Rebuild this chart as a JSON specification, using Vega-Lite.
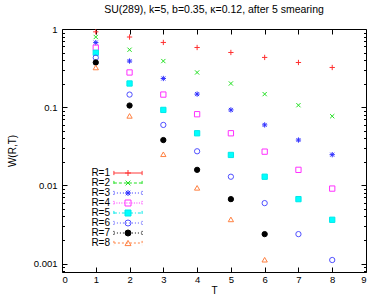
{
  "$schema": "https://vega.github.io/schema/vega-lite/v6.json",
  "width": 304,
  "height": 243,
  "autosize": {"type": "none"},
  "padding": {"left": 62, "top": 29, "right": 16, "bottom": 30},
  "background": "white",
  "title": {"text": "SU(289),  k=5,  b=0.35,  κ=0.12,  after 5 smearing", "fontSize": 10.5, "fontWeight": "normal", "font": "Liberation Sans", "offset": 9, "color": "black"},
  "config": {
    "view": {"stroke": null},
    "axis": {"grid": false, "labelFont": "Liberation Sans", "labelFontSize": 9.5, "labelColor": "black", "domainColor": "black", "tickColor": "black", "titleFont": "Liberation Sans", "titleFontSize": 10, "titleFontWeight": "normal", "titleColor": "black", "domainWidth": 1, "tickWidth": 1},
    "legend": {"labelFont": "Liberation Sans", "labelFontSize": 10, "labelColor": "black"}
  },
  "datasets": {
    "pts": [
      {"R": "R=1", "T": 1, "W": 0.92}, {"R": "R=1", "T": 2, "W": 0.79}, {"R": "R=1", "T": 3, "W": 0.673}, {"R": "R=1", "T": 4, "W": 0.58},
      {"R": "R=1", "T": 5, "W": 0.501}, {"R": "R=1", "T": 6, "W": 0.433}, {"R": "R=1", "T": 7, "W": 0.373}, {"R": "R=1", "T": 8, "W": 0.322},
      {"R": "R=2", "T": 1, "W": 0.79}, {"R": "R=2", "T": 2, "W": 0.543}, {"R": "R=2", "T": 3, "W": 0.389}, {"R": "R=2", "T": 4, "W": 0.278},
      {"R": "R=2", "T": 5, "W": 0.201}, {"R": "R=2", "T": 6, "W": 0.147}, {"R": "R=2", "T": 7, "W": 0.106}, {"R": "R=2", "T": 8, "W": 0.0767},
      {"R": "R=3", "T": 1, "W": 0.67}, {"R": "R=3", "T": 2, "W": 0.389}, {"R": "R=3", "T": 3, "W": 0.233}, {"R": "R=3", "T": 4, "W": 0.147},
      {"R": "R=3", "T": 5, "W": 0.0923}, {"R": "R=3", "T": 6, "W": 0.0593}, {"R": "R=3", "T": 7, "W": 0.038}, {"R": "R=3", "T": 8, "W": 0.0247},
      {"R": "R=4", "T": 1, "W": 0.576}, {"R": "R=4", "T": 2, "W": 0.278}, {"R": "R=4", "T": 3, "W": 0.145}, {"R": "R=4", "T": 4, "W": 0.0813},
      {"R": "R=4", "T": 5, "W": 0.0464}, {"R": "R=4", "T": 6, "W": 0.027}, {"R": "R=4", "T": 7, "W": 0.0158}, {"R": "R=4", "T": 8, "W": 0.0091},
      {"R": "R=5", "T": 1, "W": 0.497}, {"R": "R=5", "T": 2, "W": 0.201}, {"R": "R=5", "T": 3, "W": 0.0923}, {"R": "R=5", "T": 4, "W": 0.0464},
      {"R": "R=5", "T": 5, "W": 0.0245}, {"R": "R=5", "T": 6, "W": 0.0129}, {"R": "R=5", "T": 7, "W": 0.00667}, {"R": "R=5", "T": 8, "W": 0.00363},
      {"R": "R=6", "T": 1, "W": 0.43}, {"R": "R=6", "T": 2, "W": 0.145}, {"R": "R=6", "T": 3, "W": 0.0593}, {"R": "R=6", "T": 4, "W": 0.0273},
      {"R": "R=6", "T": 5, "W": 0.0129}, {"R": "R=6", "T": 6, "W": 0.00593}, {"R": "R=6", "T": 7, "W": 0.00238}, {"R": "R=6", "T": 8, "W": 0.00111},
      {"R": "R=7", "T": 1, "W": 0.373}, {"R": "R=7", "T": 2, "W": 0.105}, {"R": "R=7", "T": 3, "W": 0.038}, {"R": "R=7", "T": 4, "W": 0.0158},
      {"R": "R=7", "T": 5, "W": 0.00667}, {"R": "R=7", "T": 6, "W": 0.00238},
      {"R": "R=8", "T": 1, "W": 0.322}, {"R": "R=8", "T": 2, "W": 0.0774}, {"R": "R=8", "T": 3, "W": 0.025}, {"R": "R=8", "T": 4, "W": 0.0093},
      {"R": "R=8", "T": 5, "W": 0.00367}, {"R": "R=8", "T": 6, "W": 0.00112}
    ],
    "series": [
      {"R": "R=1"}, {"R": "R=2"}, {"R": "R=3"}, {"R": "R=4"}, {"R": "R=5"}, {"R": "R=6"}, {"R": "R=7"}, {"R": "R=8"}
    ]
  },
  "layer": [
    {
      "data": {"name": "series"},
      "mark": {"type": "rule", "strokeWidth": 1},
      "encoding": {
        "x": {"datum": 0, "type": "quantitative", "scale": {"domain": [0, 9], "nice": false, "zero": false}, "axis": null},
        "x2": {"datum": 0},
        "y": {"datum": 1, "type": "quantitative", "scale": {"type": "log", "domain": [0.00078, 1], "nice": false}, "axis": null},
        "y2": {"datum": 1},
        "stroke": {"field": "R", "type": "nominal",
          "scale": {"domain": ["R=1","R=2","R=3","R=4","R=5","R=6","R=7","R=8"], "range": ["#ff3030","#20e020","#3030ff","#ff30ff","#00e8e8","#5050ff","#000000","#ff8040"]},
          "legend": {"orient": "none", "legendX": 61, "legendY": 139, "title": null, "labelExpr": "''", "symbolType": "M-4.7,0L4.7,0M-4.7,-0.7L-4.7,0.7M4.7,-0.7L4.7,0.7", "symbolSize": 36, "rowPadding": -1.6, "padding": 0, "symbolFillColor": "transparent", "symbolStrokeWidth": 1}},
        "strokeDash": {"field": "R", "type": "nominal",
          "scale": {"domain": ["R=1","R=2","R=3","R=4","R=5","R=6","R=7","R=8"], "range": [[1,0],[3,2],[1,2],[1,1.5],[3,2,1,2],[1,2],[1,2],[2,2]]},
          "legend": {"orient": "none", "legendX": 61, "legendY": 139, "title": null, "labelExpr": "''", "symbolType": "M-4.7,0L4.7,0M-4.7,-0.7L-4.7,0.7M4.7,-0.7L4.7,0.7", "symbolSize": 36, "rowPadding": -1.6, "padding": 0, "symbolFillColor": "transparent", "symbolStrokeWidth": 1}}
      }
    },
    {
      "data": {"name": "pts"},
      "mark": {"type": "point", "filled": true, "strokeWidth": 1, "opacity": 1, "size": 28},
      "encoding": {
        "x": {"field": "T", "type": "quantitative", "scale": {"domain": [0, 9], "nice": false, "zero": false},
          "axis": {"orient": "bottom", "values": [0,1,2,3,4,5,6,7,8,9], "tickSize": -5, "format": "d", "title": "T", "labelPadding": 7, "titlePadding": 2}},
        "y": {"field": "W", "type": "quantitative", "scale": {"type": "log", "domain": [0.00078, 1], "nice": false},
          "axis": {"orient": "left", "values": [0.001, 0.01, 0.1, 1], "tickSize": -5, "format": "~g", "title": "W(R,T)", "labelPadding": 10, "titlePadding": 16}},
        "shape": {"field": "R", "type": "nominal",
          "scale": {"domain": ["R=1","R=2","R=3","R=4","R=5","R=6","R=7","R=8"], "range": ["M-1,0L1,0M0,-1L0,1", "M-0.8,-0.8L0.8,0.8M-0.8,0.8L0.8,-0.8", "M-1,0L1,0M0,-1L0,1M-0.75,-0.75L0.75,0.75M-0.75,0.75L0.75,-0.75", "square", "square", "circle", "circle", "triangle-up"]},
          "legend": {"orient": "none", "legendX": 61, "legendY": 139, "title": null, "labelAlign": "right", "labelOffset": -23, "rowPadding": -1.6, "symbolSize": 36, "padding": 0, "symbolStrokeWidth": 1}},
        "stroke": {"field": "R", "type": "nominal",
          "scale": {"domain": ["R=1","R=2","R=3","R=4","R=5","R=6","R=7","R=8"], "range": ["#ff3030","#20e020","#3030ff","#ff30ff","#00e8e8","#5050ff","#000000","#ff8040"]},
          "legend": {"orient": "none", "legendX": 61, "legendY": 139, "title": null, "labelAlign": "right", "labelOffset": -23, "rowPadding": -1.6, "symbolSize": 36, "padding": 0, "symbolStrokeWidth": 1}},
        "fill": {"field": "R", "type": "nominal",
          "scale": {"domain": ["R=1","R=2","R=3","R=4","R=5","R=6","R=7","R=8"], "range": ["transparent","transparent","transparent","transparent","#00ffff","transparent","#000000","transparent"]},
          "legend": {"orient": "none", "legendX": 61, "legendY": 139, "title": null, "labelAlign": "right", "labelOffset": -23, "rowPadding": -1.6, "symbolSize": 36, "padding": 0, "symbolStrokeWidth": 1}}
      }
    },
    {
      "data": {"name": "pts"},
      "mark": {"type": "point", "opacity": 0},
      "encoding": {
        "x": {"field": "T", "type": "quantitative", "scale": {"domain": [0, 9], "nice": false, "zero": false},
          "axis": {"orient": "top", "values": [1,2,3,4,5,6,7,8], "tickSize": -5, "labels": false, "title": null}},
        "y": {"field": "W", "type": "quantitative", "scale": {"type": "log", "domain": [0.00078, 1], "nice": false},
          "axis": {"orient": "right", "values": [0.001, 0.01, 0.1, 1], "tickSize": -5, "labels": false, "title": null}}
      }
    },
    {
      "data": {"name": "pts"},
      "mark": {"type": "point", "opacity": 0},
      "encoding": {
        "x": {"field": "T", "type": "quantitative", "scale": {"domain": [0, 9], "nice": false, "zero": false}, "axis": null},
        "y": {"field": "W", "type": "quantitative", "scale": {"type": "log", "domain": [0.00078, 1], "nice": false},
          "axis": {"orient": "left", "values": [0.0008,0.0009,0.002,0.003,0.004,0.005,0.006,0.007,0.008,0.009,0.02,0.03,0.04,0.05,0.06,0.07,0.08,0.09,0.2,0.3,0.4,0.5,0.6,0.7,0.8,0.9], "tickSize": -2.5, "labels": false, "domain": false, "title": null}}
      }
    },
    {
      "data": {"name": "pts"},
      "mark": {"type": "point", "opacity": 0},
      "encoding": {
        "x": {"field": "T", "type": "quantitative", "scale": {"domain": [0, 9], "nice": false, "zero": false}, "axis": null},
        "y": {"field": "W", "type": "quantitative", "scale": {"type": "log", "domain": [0.00078, 1], "nice": false},
          "axis": {"orient": "right", "values": [0.0008,0.0009,0.002,0.003,0.004,0.005,0.006,0.007,0.008,0.009,0.02,0.03,0.04,0.05,0.06,0.07,0.08,0.09,0.2,0.3,0.4,0.5,0.6,0.7,0.8,0.9], "tickSize": -2.5, "labels": false, "domain": false, "title": null}}
      }
    }
  ],
  "resolve": {
    "axis": {"x": "independent", "y": "independent"},
    "scale": {"stroke": "independent", "strokeDash": "independent", "shape": "independent", "fill": "independent"}
  }
}
